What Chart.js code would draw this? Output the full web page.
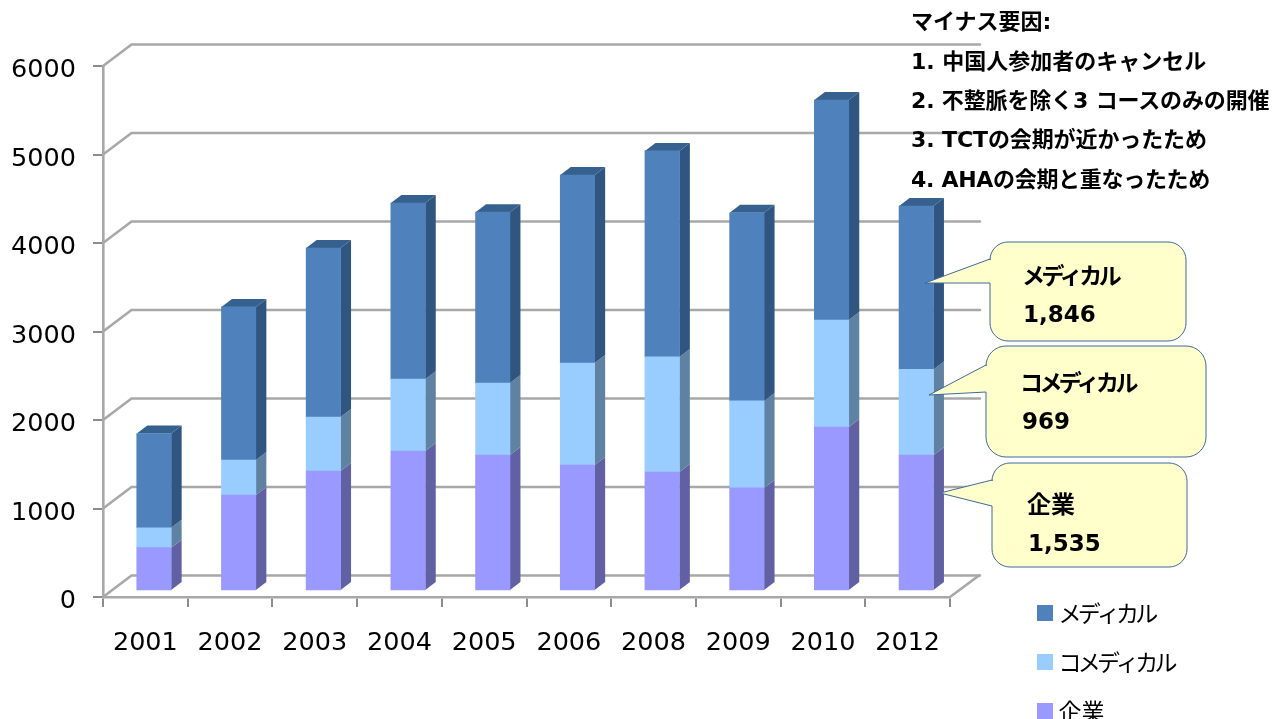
<!DOCTYPE html>
<html lang="ja"><head><meta charset="utf-8">
<style>
html,body{margin:0;padding:0;background:#fff;overflow:hidden}
#wrap{position:relative;width:1273px;height:719px;overflow:hidden;filter:blur(0.45px)}
canvas{position:absolute;left:0;top:0}
.t{position:absolute;white-space:nowrap;font-family:"DejaVu Sans","Noto Sans CJK JP",sans-serif;font-weight:700;color:#000;line-height:30px;height:30px}
</style>
<script src="https://cdn.jsdelivr.net/npm/chart.js@4"></script>
</head><body>
<div id="wrap">
<canvas id="c" width="1273" height="719"></canvas>
<div class="t" style="left:911px;top:7px;font-size:22px">マイナス要因:</div>
<div class="t" style="left:911px;top:47px;font-size:22px">1. 中国人参加者のキャンセル</div>
<div class="t" style="left:911px;top:86px;font-size:22px;letter-spacing:-0.15px">2. 不整脈を除く3 コースのみの開催</div>
<div class="t" style="left:911px;top:125px;font-size:22px;letter-spacing:-0.1px">3. TCTの会期が近かったため</div>
<div class="t" style="left:911px;top:165px;font-size:22px;letter-spacing:-0.3px">4. AHAの会期と重なったため</div>
<div class="t" style="left:1022px;top:261px;font-size:23px;letter-spacing:-3.4px">メディカル</div>
<div class="t" style="left:1023px;top:299px;font-size:23px">1,846</div>
<div class="t" style="left:1020px;top:368px;font-size:23px;letter-spacing:-3.6px">コメディカル</div>
<div class="t" style="left:1022px;top:406px;font-size:23px">969</div>
<div class="t" style="left:1027px;top:490px;font-size:24px">企業</div>
<div class="t" style="left:1028px;top:528px;font-size:23px">1,535</div>
</div>
<script>
const categories = ["2001","2002","2003","2004","2005","2006","2008","2009","2010","2012"];
const kigyo    = [490,1085,1355,1582,1537,1424,1345,1165,1853,1535];
const comedical= [225,395,610,812,812,1152,1300,983,1208,969];
const medical  = [1065,1730,1910,1990,1932,2125,2328,2125,2486,1846];
const seriesNames = ["企業","コメディカル","メディカル"];
const yTicks = [0,1000,2000,3000,4000,5000,6000];

const FONT = '"DejaVu Sans","Noto Sans CJK JP",sans-serif';
const front = ["#9999FF","#99CCFF","#4F81BD"];
const side  = ["#6060A3","#5F82A3","#2F5580"];
const topFace = "#36618F";
const GRID = "#A8A8A8";
const BAR_DX = 8.6, BAR_DY = -6, DEPTH_X = 10.5, DEPTH_Y = 8;
const WALL_DX = 28.5, WALL_DY = 21.5, WALL_RIGHT = 980;

function poly(ctx, pts, fill){
  ctx.beginPath();
  pts.forEach((p,i)=> i?ctx.lineTo(p[0],p[1]):ctx.moveTo(p[0],p[1]));
  ctx.closePath();
  ctx.fillStyle=fill;ctx.fill();
}
function callout(ctx, l, t, r, b, rad, tip, j1, j2){
  ctx.beginPath();
  ctx.moveTo(l+rad,t);
  ctx.arcTo(r,t,r,b,rad);
  ctx.arcTo(r,b,l,b,rad);
  ctx.arcTo(l,b,l,t,rad);
  ctx.lineTo(l,j2);
  ctx.lineTo(tip[0],tip[1]);
  ctx.lineTo(l,j1);
  ctx.arcTo(l,t,r,t,rad);
  ctx.closePath();
  ctx.fillStyle="#FFFFCC";ctx.fill();
  ctx.strokeStyle="#41699A";ctx.lineWidth=1;ctx.stroke();
}
const threeD = {
  id:"threeD",
  afterLayout(chart){
    const lg = chart.legend;
    lg.left = 1011; lg.right = 1273; lg.top = 575.5; lg.bottom = 1000;
    if(!lg._wrapped){
      const orig = lg.draw.bind(lg);
      lg.draw = function(a){
        const c = chart.ctx;
        c.save();
        c.fillText = function(t,x,y,m){
          c.letterSpacing = t === seriesNames[0] ? "0px" : "-3.8px";
          return CanvasRenderingContext2D.prototype.fillText.call(c,t,x-6,y,m);
        };
        orig(a);
        delete c.fillText;
        c.restore();
      };
      lg._wrapped = true;
    }
  },
  beforeDatasetsDraw(chart){
    const {ctx, scales:{x,y}} = chart;
    const L = x.left, R = x.right, B = y.getPixelForValue(0);
    ctx.save();
    ctx.lineCap="round";
    ctx.strokeStyle=GRID; ctx.lineWidth=2.6;
    yTicks.forEach(v=>{
      const py=y.getPixelForValue(v);
      ctx.beginPath();
      ctx.moveTo(L,py);
      ctx.lineTo(L+WALL_DX,py-WALL_DY);
      ctx.lineTo(WALL_RIGHT,py-WALL_DY);
      ctx.stroke();
    });
    ctx.beginPath();
    ctx.moveTo(R,B);ctx.lineTo(WALL_RIGHT-1,B-WALL_DY);ctx.stroke();
    chart.data.datasets.forEach((ds,i)=>{
      chart.getDatasetMeta(i).data.forEach(bar=>{
        const xr=bar.x+bar.width/2+BAR_DX, xl=bar.x-bar.width/2+BAR_DX;
        const yt=bar.y+BAR_DY, yb=bar.base+BAR_DY;
        poly(ctx,[[xr,yt],[xr+DEPTH_X,yt-DEPTH_Y],[xr+DEPTH_X,yb-DEPTH_Y],[xr,yb]],side[i]);
        if(i===chart.data.datasets.length-1){
          poly(ctx,[[xl,yt],[xl+DEPTH_X,yt-DEPTH_Y],[xr+DEPTH_X,yt-DEPTH_Y],[xr,yt]],topFace);
        }
      });
    });
    ctx.restore();
    ctx.save();
    ctx.translate(BAR_DX,BAR_DY);
  },
  afterDatasetsDraw(chart){ chart.ctx.restore(); },
  afterDraw(chart){
    const ctx=chart.ctx;
    ctx.save();
    callout(ctx,990,242,1186,341,18,[925,283],259,283);
    callout(ctx,986,346,1206,457,20,[929,395],365,392);
    callout(ctx,992,463,1187,567,18,[940,493],480,506);
    ctx.restore();
  }
};
new Chart(document.getElementById("c"),{
  type:"bar",
  plugins:[threeD],
  data:{labels:categories,datasets:[
    {label:seriesNames[0],data:kigyo,backgroundColor:front[0]},
    {label:seriesNames[1],data:comedical,backgroundColor:front[1]},
    {label:seriesNames[2],data:medical,backgroundColor:front[2]}
  ]},
  options:{
    responsive:false,animation:false,devicePixelRatio:1,
    layout:{padding:{top:66,right:323,left:0,bottom:0}},
    datasets:{bar:{barThickness:34.4,borderWidth:0}},
    plugins:{
      tooltip:{enabled:false},
      legend:{position:"chartArea",align:"start",reverse:true,
        labels:{boxWidth:16,boxHeight:16,padding:26,color:"#000",
          font:{family:'"Noto Sans CJK JP",sans-serif',size:23,lineHeight:1.087}}}
    },
    scales:{
      x:{stacked:true,
        afterFit(s){s.height=122;},
        border:{color:GRID,width:2.6},
        grid:{drawOnChartArea:false,color:"#8C8C8C",lineWidth:2,tickLength:10,offset:true},
        ticks:{color:"#000",padding:21,maxRotation:0,font:{family:FONT,size:25.5}}},
      y:{stacked:true,min:0,max:6000,
        afterFit(s){s.width=103;},
        afterBuildTicks(s){s.ticks=yTicks.map(v=>({value:v}));},
        border:{color:GRID,width:2.6},
        grid:{drawOnChartArea:false,color:"#8C8C8C",lineWidth:2,tickLength:10},
        ticks:{color:"#000",padding:17,labelOffset:4.5,font:{family:FONT,size:25.5},callback:v=>String(v)}}
    }
  }
});
</script>
</body></html>
